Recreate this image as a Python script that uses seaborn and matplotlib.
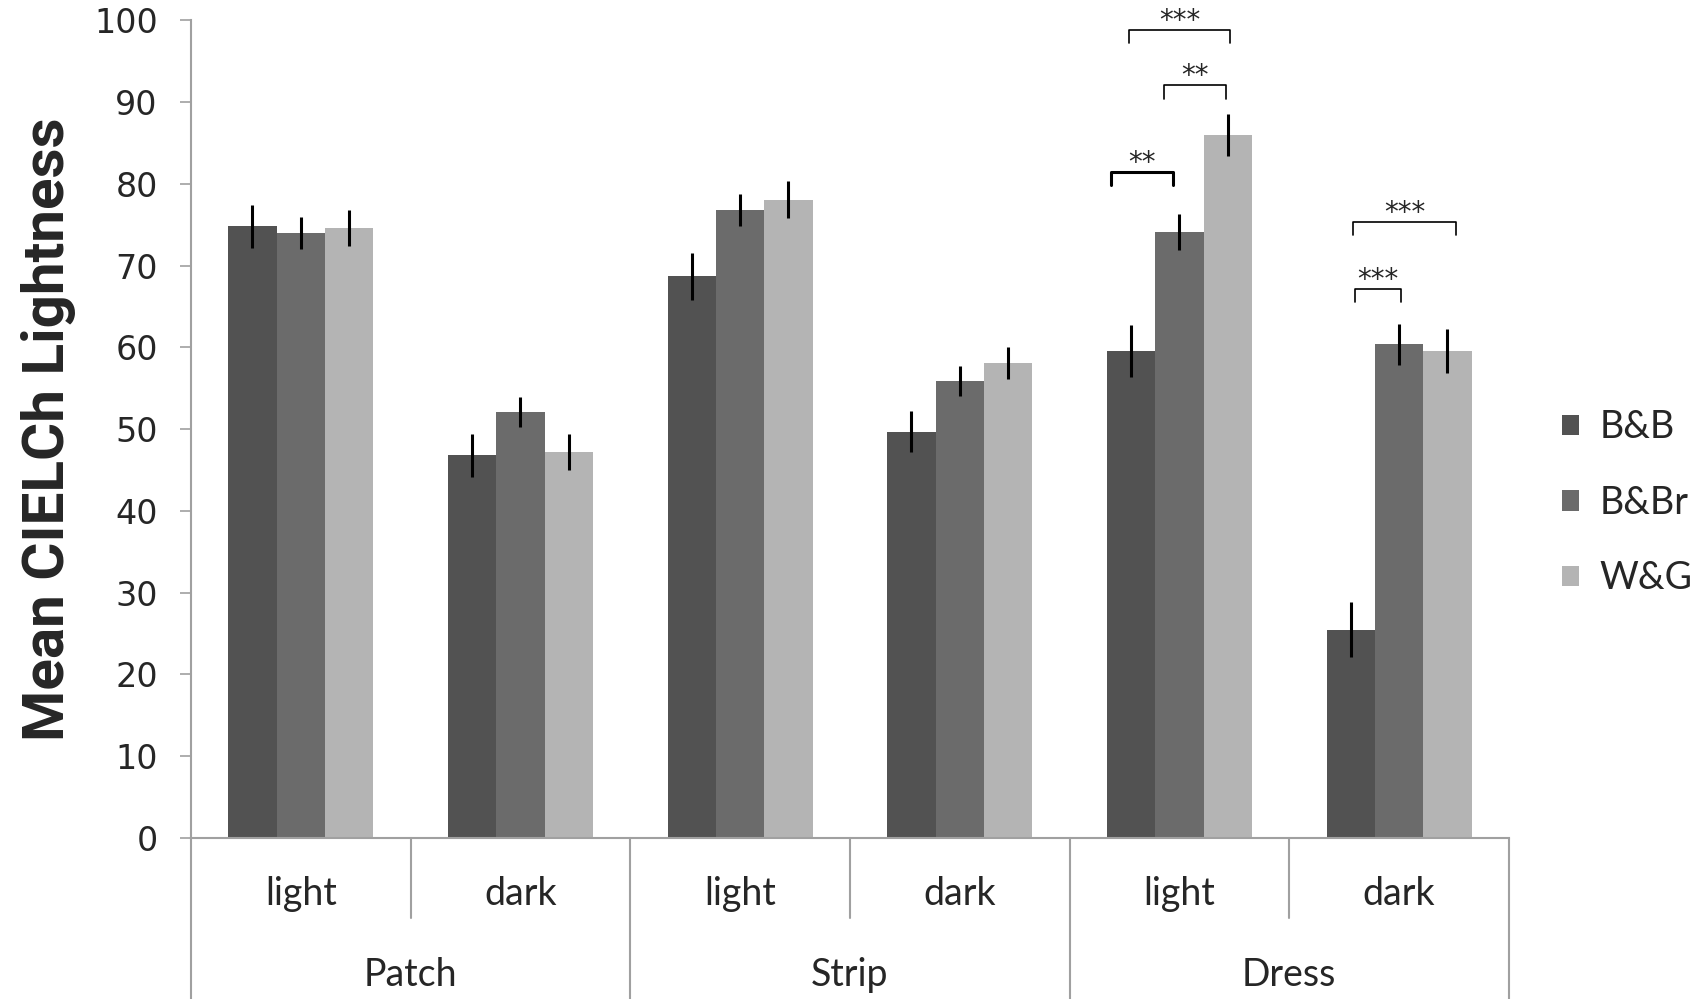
import pandas as pd
import seaborn as sns
import matplotlib.pyplot as plt
import matplotlib.transforms as mtransforms

# Values
groups = ["Patch", "Strip", "Dress"]
levels = ["light", "dark"]
series = ["B&B", "B&Br", "W&G"]
colors = ["#525252", "#6b6b6b", "#b4b4b4"]

bb_mean = [74.8, 46.8, 68.7, 49.7, 59.6, 25.5]
bbr_mean = [74.0, 52.1, 76.8, 55.9, 74.1, 60.4]
wg_mean = [74.6, 47.2, 78.1, 58.1, 86.0, 59.6]

bb_err = [2.6, 2.6, 2.9, 2.5, 3.2, 3.4]
bbr_err = [2.0, 1.8, 2.0, 1.8, 2.2, 2.5]
wg_err = [2.2, 2.2, 2.3, 2.0, 2.6, 2.7]

# significance brackets: (x left, x right, bar height, tick depth, label, line width)
brackets = [
    (3.69, 3.97, 81.5, 1.6, "**", 2.2),
    (3.93, 4.21, 92.1, 1.7, "**", 1.2),
    (3.77, 4.23, 98.8, 1.6, "***", 1.2),
    (4.80, 5.01, 67.2, 1.6, "***", 1.2),
    (4.79, 5.26, 75.4, 1.6, "***", 1.2),
]

conds = [f"{g} {l}" for g in groups for l in levels]
means = [bb_mean, bbr_mean, wg_mean]
errs = [bb_err, bbr_err, wg_err]

rows = []
for s, m in zip(series, means):
    for c, v in zip(conds, m):
        rows.append({"cond": c, "series": s, "value": v})
df = pd.DataFrame(rows)

sns.set_style("white")
fig = plt.figure(figsize=(16.93, 9.99), dpi=100)
ax = fig.add_axes([0.1128, 0.1612, 0.7785, 0.8183])

sns.barplot(data=df, x="cond", y="value", hue="series", order=conds,
            hue_order=series, palette=colors, width=0.66, gap=0,
            errorbar=None, saturation=1, edgecolor="none", ax=ax)

for cont, m, e in zip(ax.containers, means, errs):
    xs = [p.get_x() + p.get_width() / 2 for p in cont.patches]
    ax.errorbar(xs, m, yerr=e, fmt="none", ecolor="black", elinewidth=2.2, capsize=0)

ax.set_xlim(-0.5, 5.5)
ax.set_ylim(0, 100)
ax.set_yticks(range(0, 101, 10))
ax.tick_params(axis="y", direction="out", length=8, width=1.2, color="#a0a0a0",
               pad=16, labelsize=24, left=True)
ax.tick_params(axis="x", bottom=False, labelbottom=False)
ax.set_xlabel("")
for side in ["top", "right"]:
    ax.spines[side].set_visible(False)
for side in ["left", "bottom"]:
    ax.spines[side].set_color("#a0a0a0")
    ax.spines[side].set_linewidth(1.5)

ax.set_ylabel("Mean CIELCh Lightness", fontsize=42, fontweight="bold",
              family=["Roboto", "DejaVu Sans"])
ax.yaxis.set_label_coords(-0.087, 0.5)

# two-level category axis
trans = mtransforms.blended_transform_factory(ax.transData, ax.transAxes)
for i in range(7):
    x = i - 0.5
    y_end = -0.098 if i % 2 == 1 else -0.2
    ax.plot([x, x], [0, y_end], transform=trans, color="#a0a0a0", lw=1.5, clip_on=False)
for i, c in enumerate(conds):
    ax.text(i, -0.068, c.split()[1], transform=trans, ha="center", va="center",
            fontsize=27, family="Lato")
for j, g in enumerate(groups):
    ax.text(2 * j + 0.5, -0.168, g, transform=trans, ha="center", va="center",
            fontsize=27, family="Lato")

for x0, x1, h, d, lab, lw in brackets:
    ax.plot([x0, x0, x1, x1], [h - d, h, h, h - d], color="black", lw=lw, clip_on=False)
    ax.text((x0 + x1) / 2, h + 0.1, lab, ha="center", va="baseline", fontsize=20, clip_on=False)

sns.move_legend(ax, "center left", bbox_to_anchor=(1.04, 0.41), frameon=False,
                title=None, fontsize=27, handlelength=0.45, handleheight=0.45,
                handletextpad=0.55, labelspacing=1.05, borderpad=0, borderaxespad=0)
for t in ax.get_legend().get_texts():
    t.set_family("Lato")

plt.savefig("out.png", dpi=100)
